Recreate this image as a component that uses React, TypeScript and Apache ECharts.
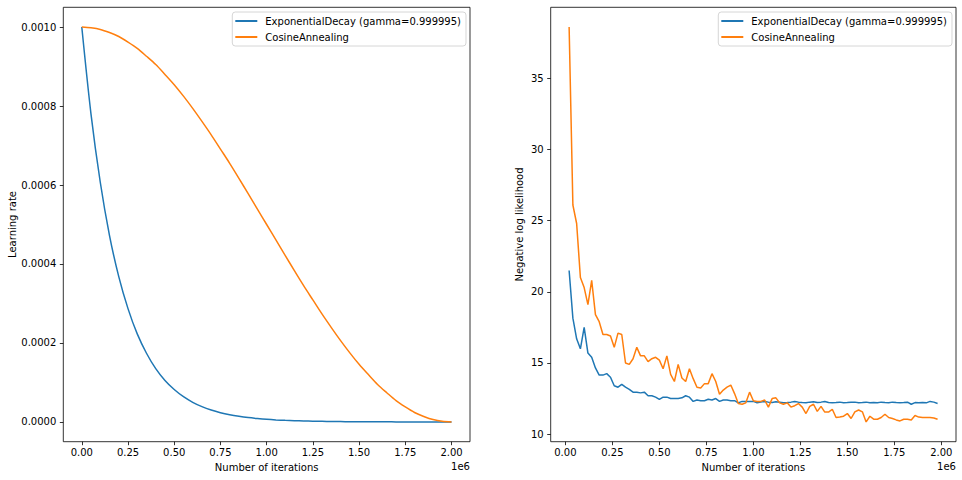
import { useEffect, useRef } from "react";
import * as echarts from "echarts";

const EXP_NAME = "ExponentialDecay (gamma=0.999995)";
const COS_NAME = "CosineAnnealing";

// Left panel: learning rate schedules (iterations in thousands)
const LR_ITERS_K = [0, 50, 100, 150, 200, 250, 300, 350, 400, 450, 500, 550, 600, 650, 700, 750, 800, 850, 900, 950, 1000, 1050, 1100, 1150, 1200, 1250, 1300, 1350, 1400, 1450, 1500, 1550, 1600, 1650, 1700, 1750, 1800, 1850, 1900, 1950, 2000];
const EXP_LR = [0.001, 0.000779, 0.000607, 0.000472, 0.000368, 0.000287, 0.000223, 0.000174, 0.000135, 0.000105, 0.0000821, 0.0000639, 0.0000498, 0.0000388, 0.0000302, 0.0000235, 0.0000183, 0.0000143, 0.0000111, 0.0000087, 0.0000067, 0.0000052, 0.0000041, 0.0000032, 0.0000025, 0.0000019, 0.0000015, 0.0000012, 0.0000009, 0.0000007, 0.00000055, 0.00000043, 0.00000034, 0.00000026, 0.0000002, 0.00000016, 0.00000012, 0.0000001, 0.00000007, 0.00000006, 0.000000045];
const COS_LR = [0.001, 0.000998, 0.000994, 0.000986, 0.000976, 0.000962, 0.000946, 0.000926, 0.000905, 0.00088, 0.000854, 0.000825, 0.000794, 0.000761, 0.000727, 0.000691, 0.000655, 0.000617, 0.000578, 0.000539, 0.0005, 0.000461, 0.000422, 0.000383, 0.000345, 0.000309, 0.000273, 0.000239, 0.000206, 0.000175, 0.000146, 0.00012, 0.000095, 0.000074, 0.000054, 0.000038, 0.000024, 0.000014, 0.000006, 0.0000015, 0];

// Right panel: negative log likelihood (iterations in thousands)
const NLL_ITERS_K = [20, 40, 60, 80, 100, 120, 140, 160, 180, 200, 220, 240, 260, 280, 300, 320, 340, 360, 380, 400, 420, 440, 460, 480, 500, 520, 540, 560, 580, 600, 620, 640, 660, 680, 700, 720, 740, 760, 780, 800, 820, 840, 860, 880, 900, 920, 940, 960, 980, 1000, 1020, 1040, 1060, 1080, 1100, 1120, 1140, 1160, 1180, 1200, 1220, 1240, 1260, 1280, 1300, 1320, 1340, 1360, 1380, 1400, 1420, 1440, 1460, 1480, 1500, 1520, 1540, 1560, 1580, 1600, 1620, 1640, 1660, 1680, 1700, 1720, 1740, 1760, 1780, 1800, 1820, 1840, 1860, 1880, 1900, 1920, 1940, 1960, 1980];
const EXP_NLL = [21.5, 18.15, 16.7, 16.0, 17.5, 15.7, 15.4, 14.65, 14.15, 14.15, 14.25, 14.0, 13.4, 13.3, 13.5, 13.3, 13.15, 12.95, 12.95, 12.9, 12.95, 12.7, 12.7, 12.6, 12.45, 12.6, 12.6, 12.5, 12.5, 12.5, 12.55, 12.7, 12.6, 12.3, 12.4, 12.35, 12.35, 12.45, 12.4, 12.5, 12.3, 12.4, 12.4, 12.35, 12.35, 12.2, 12.3, 12.3, 12.3, 12.3, 12.2, 12.25, 12.3, 12.25, 12.22, 12.28, 12.25, 12.2, 12.22, 12.25, 12.3, 12.25, 12.22, 12.2, 12.25, 12.28, 12.22, 12.25, 12.3, 12.22, 12.2, 12.22, 12.25, 12.2, 12.22, 12.25, 12.25, 12.2, 12.22, 12.25, 12.2, 12.22, 12.2, 12.25, 12.22, 12.2, 12.25, 12.22, 12.2, 12.22, 12.25, 12.1, 12.22, 12.2, 12.22, 12.2, 12.3, 12.25, 12.15];
const COS_NLL = [38.6, 26.1, 24.8, 21.0, 20.3, 19.1, 20.8, 18.4, 17.9, 17.0, 17.0, 16.9, 16.1, 17.1, 17.0, 15.0, 14.9, 15.3, 16.1, 15.5, 15.5, 15.1, 15.3, 15.4, 15.2, 14.6, 15.5, 14.2, 13.7, 14.9, 13.95, 13.7, 14.6, 13.9, 13.3, 13.25, 13.55, 13.55, 14.25, 13.7, 12.8, 13.1, 13.3, 13.45, 12.85, 12.15, 12.1, 12.2, 12.95, 12.35, 12.3, 12.3, 12.4, 11.9, 12.5, 12.55, 12.2, 12.1, 12.2, 11.9, 12.0, 12.15, 11.9, 11.45, 11.95, 12.1, 11.6, 11.95, 11.55, 11.55, 11.75, 11.17, 11.2, 11.26, 11.45, 11.1, 11.57, 11.7, 11.57, 10.86, 11.26, 11.05, 11.05, 11.17, 11.4, 11.17, 11.1, 11.0, 10.93, 11.05, 11.05, 11.0, 11.31, 11.2, 11.17, 11.17, 11.17, 11.14, 11.05];

// Tick labels
const X_TICKS = [0, 250000, 500000, 750000, 1000000, 1250000, 1500000, 1750000, 2000000];
const LR_TICKS = [0, 0.0002, 0.0004, 0.0006, 0.0008, 0.001];
const NLL_TICKS = [10, 15, 20, 25, 30, 35];

const FONT = "DejaVu Sans";
const BLUE = "#1f77b4";
const ORANGE = "#ff7f0e";

function pairs(xsK: number[], ys: number[]) {
  return xsK.map((x, i) => [x * 1000, ys[i]]);
}

const tickStyle = { show: true, inside: false, length: 3.5, lineStyle: { color: "#000", width: 0.8 } };
const labelText = { fontFamily: FONT, fontSize: 10, color: "#000" };

function xAxisCfg(gridIndex: number, min: number, max: number) {
  return {
    type: "value",
    gridIndex,
    position: "bottom",
    min,
    max,
    name: "Number of iterations",
    nameLocation: "middle",
    nameGap: 18,
    nameTextStyle: labelText,
    axisLine: { show: false, onZero: false },
    splitLine: { show: false },
    axisTick: { ...tickStyle, customValues: X_TICKS },
    axisLabel: {
      ...labelText,
      margin: 6,
      customValues: X_TICKS,
      formatter: (v: number) => (v / 1e6).toFixed(2),
    },
  };
}

function yAxisCfg(gridIndex: number, min: number, max: number, ticks: number[], digits: number) {
  return {
    type: "value",
    gridIndex,
    position: "left",
    min,
    max,
    axisLine: { show: false, onZero: false },
    splitLine: { show: false },
    axisTick: { ...tickStyle, customValues: ticks },
    axisLabel: {
      ...labelText,
      margin: 7,
      customValues: ticks,
      formatter: (v: number) => v.toFixed(digits),
    },
  };
}

function legendCfg(left: number) {
  return {
    orient: "vertical",
    left,
    top: 12,
    icon: "rect",
    itemWidth: 22,
    itemHeight: 2,
    itemGap: 4,
    padding: [3, 5, 3, 3],
    borderColor: "#cccccc",
    borderWidth: 0.8,
    borderRadius: 3,
    backgroundColor: "rgba(255,255,255,0.8)",
    textStyle: { ...labelText, lineHeight: 12, padding: [0, 0, 0, 3] },
    data: [EXP_NAME, COS_NAME],
  };
}

export default function App() {
  const ref = useRef<HTMLDivElement>(null);

  useEffect(() => {
    document.body.style.margin = "0";
    if (!ref.current) return;
    const chart = echarts.init(ref.current, undefined, { renderer: "svg" });
    const lineSeries = (name: string, color: string, data: number[][], idx: number, smooth: number | boolean) => ({
      type: "line",
      name,
      xAxisIndex: idx,
      yAxisIndex: idx,
      data,
      showSymbol: false,
      symbol: "none",
      smooth,
      color,
      itemStyle: { color },
      lineStyle: { color, width: 1.5 },
    });
    chart.setOption({
      animation: false,
      backgroundColor: "#ffffff",
      grid: [
        { left: 63.3, top: 7.3, width: 406.7, height: 434.4, show: true, borderColor: "#000", borderWidth: 0.8, backgroundColor: "transparent" },
        { left: 550.7, top: 7.3, width: 405.3, height: 434.4, show: true, borderColor: "#000", borderWidth: 0.8, backgroundColor: "transparent" },
      ],
      xAxis: [xAxisCfg(0, -100000, 2100000), xAxisCfg(1, -78000, 2078000)],
      yAxis: [
        yAxisCfg(0, -0.00005, 0.00105, LR_TICKS, 4),
        yAxisCfg(1, 9.47, 39.99, NLL_TICKS, 0),
      ],
      legend: [legendCfg(232.3), legendCfg(718.3)],
      series: [
        lineSeries(EXP_NAME, BLUE, pairs(LR_ITERS_K, EXP_LR), 0, 0.3),
        lineSeries(COS_NAME, ORANGE, pairs(LR_ITERS_K, COS_LR), 0, 0.3),
        lineSeries(EXP_NAME, BLUE, pairs(NLL_ITERS_K, EXP_NLL), 1, false),
        lineSeries(COS_NAME, ORANGE, pairs(NLL_ITERS_K, COS_NLL), 1, false),
      ],
      graphic: [
        { type: "text", x: 12, y: 224.5, rotation: Math.PI / 2, style: { text: "Learning rate", ...labelText, fill: "#000", align: "center", verticalAlign: "middle" } },
        { type: "text", x: 519.5, y: 224.5, rotation: Math.PI / 2, style: { text: "Negative log likelihood", ...labelText, fill: "#000", align: "center", verticalAlign: "middle" } },
        { type: "text", x: 470, y: 466.5, style: { text: "1e6", ...labelText, fill: "#000", align: "right", verticalAlign: "middle" } },
        { type: "text", x: 956, y: 466.5, style: { text: "1e6", ...labelText, fill: "#000", align: "right", verticalAlign: "middle" } },
      ],
    });
    return () => chart.dispose();
  }, []);

  return <div ref={ref} style={{ position: "fixed", left: 0, top: 0, width: 962, height: 480 }} />;
}
